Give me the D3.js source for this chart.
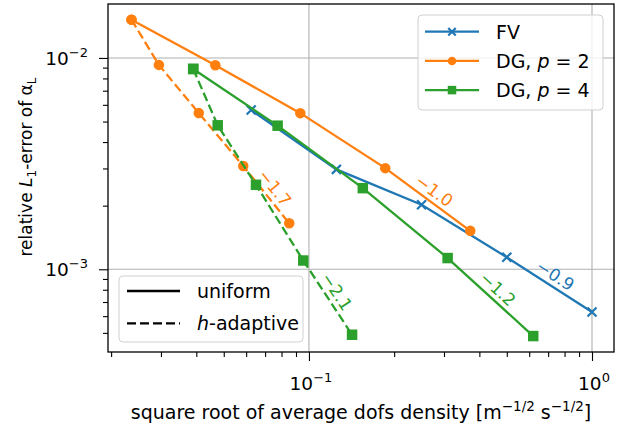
<!DOCTYPE html>
<html>
<head>
<meta charset="utf-8">
<script src="https://cdn.jsdelivr.net/npm/d3@7"></script>
<style>
  body { margin: 0; background: #fff; }
  svg { display: block; font-family: "DejaVu Sans", sans-serif; }
</style>
</head>
<body>
<div id="chart"></div>
<script>
const kWidth = 627;
const kHeight = 430;
const kMargin = {left: 108, top: 4, right: 13, bottom: 78};

// data (log-log)
const fvX = [0.0625, 0.125, 0.25, 0.5, 1.0];
const fvY = [5.67e-3, 2.97e-3, 2.02e-3, 1.14e-3, 6.28e-4];
const dg2UniX = [0.0236, 0.0467, 0.0932, 0.186, 0.3715];
const dg2UniY = [1.518e-2, 9.24e-3, 5.48e-3, 3.01e-3, 1.52e-3];
const dg2AdaX = [0.0236, 0.0295, 0.0408, 0.0586, 0.0852];
const dg2AdaY = [1.518e-2, 9.27e-3, 5.49e-3, 3.08e-3, 1.65e-3];
const dg4UniX = [0.039, 0.0775, 0.155, 0.309, 0.62];
const dg4UniY = [8.87e-3, 4.78e-3, 2.42e-3, 1.13e-3, 4.83e-4];
const dg4AdaX = [0.039, 0.0476, 0.065, 0.0955, 0.142];
const dg4AdaY = [8.87e-3, 4.80e-3, 2.51e-3, 1.10e-3, 4.90e-4];

const xDomain = [0.0195, 1.196];
const yDomain = [4.06e-4, 0.0180];
const xMajor = [0.1, 1];
const xMajorExp = ["−1", "0"];
const yMajor = [1e-3, 1e-2];
const yMajorExp = ["−3", "−2"];

const kBlue = "#1f77b4";
const kOrange = "#ff7f0e";
const kGreen = "#2ca02c";
const kDash = "9,4";

const series = [
  {xs: fvX, ys: fvY, color: kBlue, marker: "x", dashed: false, slope: "−0.9"},
  {xs: dg2UniX, ys: dg2UniY, color: kOrange, marker: "o", dashed: false, slope: "−1.0"},
  {xs: dg2AdaX, ys: dg2AdaY, color: kOrange, marker: "o", dashed: true, slope: "−1.7"},
  {xs: dg4UniX, ys: dg4UniY, color: kGreen, marker: "s", dashed: false, slope: "−1.2"},
  {xs: dg4AdaX, ys: dg4AdaY, color: kGreen, marker: "s", dashed: true, slope: "−2.1"}
];

function minorTicks(domain)
{
  const out = [];
  for (let e = -5; e <= 1; e++) {
    for (let m = 2; m <= 9; m++) {
      const v = m * Math.pow(10, e);
      if (v >= domain[0] && v <= domain[1]) out.push(v);
    }
  }
  return out;
}

function drawMarker(g, kind, color, cx, cy, size)
{
  if (kind === "o") {
    g.append("circle").attr("cx", cx).attr("cy", cy).attr("r", size / 2)
      .attr("fill", color);
  } else if (kind === "s") {
    g.append("rect").attr("x", cx - size / 2).attr("y", cy - size / 2)
      .attr("width", size).attr("height", size).attr("fill", color);
  } else {
    const h = size / 2;
    g.append("path")
      .attr("d", `M${cx-h},${cy-h}L${cx+h},${cy+h}M${cx-h},${cy+h}L${cx+h},${cy-h}`)
      .attr("stroke", color).attr("stroke-width", 2.2).attr("fill", "none");
  }
}

const svg = d3.select("#chart").append("svg")
  .attr("width", kWidth)
  .attr("height", kHeight);

const x = d3.scaleLog().domain(xDomain).range([kMargin.left, kWidth - kMargin.right]);
const y = d3.scaleLog().domain(yDomain).range([kHeight - kMargin.bottom, kMargin.top]);
const plotBottom = kHeight - kMargin.bottom;
const plotRight = kWidth - kMargin.right;

svg.append("defs").append("clipPath").attr("id", "clip")
  .append("rect")
  .attr("x", kMargin.left).attr("y", kMargin.top)
  .attr("width", plotRight - kMargin.left).attr("height", plotBottom - kMargin.top);

// grid
const grid = svg.append("g").attr("stroke", "#b0b0b0").attr("stroke-width", 1.1);
xMajor.forEach(v => grid.append("line")
  .attr("x1", x(v)).attr("x2", x(v)).attr("y1", kMargin.top).attr("y2", plotBottom));
yMajor.forEach(v => grid.append("line")
  .attr("x1", kMargin.left).attr("x2", plotRight).attr("y1", y(v)).attr("y2", y(v)));

// lines and markers
const plot = svg.append("g").attr("clip-path", "url(#clip)");
const line = d3.line().x(d => x(d[0])).y(d => y(d[1]));

series.forEach(s => {
  const pts = s.xs.map((v, i) => [v, s.ys[i]]);
  plot.append("path")
    .attr("d", line(pts))
    .attr("fill", "none")
    .attr("stroke", s.color)
    .attr("stroke-width", 2.3)
    .attr("stroke-dasharray", s.dashed ? kDash : null);
  const mg = plot.append("g");
  pts.forEach(p => drawMarker(mg, s.marker, s.color, x(p[0]), y(p[1]), s.marker === "x" ? 9 : 10.5));
});

// slope labels on the last segment
series.forEach(s => {
  const n = s.xs.length;
  const x0 = x(s.xs[n-2]), y0 = y(s.ys[n-2]);
  const x1 = x(s.xs[n-1]), y1 = y(s.ys[n-1]);
  const len = Math.hypot(x1 - x0, y1 - y0);
  const ux = (x1 - x0) / len, uy = (y1 - y0) / len;
  const off = 11;
  const cx = (x0 + x1) / 2 + uy * off;
  const cy = (y0 + y1) / 2 - ux * off;
  const ang = Math.atan2(y1 - y0, x1 - x0) * 180 / Math.PI;
  svg.append("text")
    .attr("transform", `translate(${cx},${cy}) rotate(${ang})`)
    .attr("text-anchor", "middle")
    .attr("dominant-baseline", "central")
    .attr("fill", s.color)
    .attr("font-size", 17)
    .text(s.slope);
});

// axes
const xAxisG = svg.append("g").attr("transform", `translate(0,${plotBottom})`);
xAxisG.call(d3.axisBottom(x).tickValues(xMajor).tickSize(9).tickFormat(""));
xAxisG.append("g").call(d3.axisBottom(x).tickValues(minorTicks(xDomain)).tickSize(5).tickFormat(""));
const yAxisG = svg.append("g").attr("transform", `translate(${kMargin.left},0)`);
yAxisG.call(d3.axisLeft(y).tickValues(yMajor).tickSize(9).tickFormat(""));
yAxisG.append("g").call(d3.axisLeft(y).tickValues(minorTicks(yDomain)).tickSize(5).tickFormat(""));
svg.selectAll(".domain").remove();
svg.selectAll(".tick line").attr("stroke", "#000").attr("stroke-width", 1.1);

// frame
svg.append("rect")
  .attr("x", kMargin.left).attr("y", kMargin.top)
  .attr("width", plotRight - kMargin.left).attr("height", plotBottom - kMargin.top)
  .attr("fill", "none").attr("stroke", "#000").attr("stroke-width", 1.3);

// tick labels
xMajor.forEach((v, i) => {
  const t = svg.append("text")
    .attr("x", x(v) + 2).attr("y", plotBottom + 38)
    .attr("text-anchor", "middle").attr("font-size", 18.5);
  t.append("tspan").text("10");
  t.append("tspan").attr("dy", -8).attr("font-size", 13).text(xMajorExp[i]);
});
yMajor.forEach((v, i) => {
  const t = svg.append("text")
    .attr("x", kMargin.left - 20).attr("y", y(v) + 7)
    .attr("text-anchor", "end").attr("font-size", 18.5);
  t.append("tspan").text("10");
  t.append("tspan").attr("dy", -8).attr("font-size", 13).text(yMajorExp[i]);
});

// axis titles
const xt = svg.append("text")
  .attr("x", (kMargin.left + plotRight) / 2).attr("y", 419)
  .attr("text-anchor", "middle").attr("font-size", 19);
xt.append("tspan").text("square root of average dofs density [m");
xt.append("tspan").attr("dy", -8).attr("font-size", 13.5).text("−1/2");
xt.append("tspan").attr("dy", 8).text(" s");
xt.append("tspan").attr("dy", -8).attr("font-size", 13.5).text("−1/2");
xt.append("tspan").attr("dy", 8).text("]");

const yt = svg.append("text")
  .attr("transform", `translate(32,167) rotate(-90)`)
  .attr("text-anchor", "middle").attr("font-size", 17);
yt.append("tspan").text("relative ");
yt.append("tspan").attr("font-style", "italic").text("L");
yt.append("tspan").attr("dy", 4).attr("font-size", 12).text("1");
yt.append("tspan").attr("dy", -4).text("-error of α");
yt.append("tspan").attr("dy", 4).attr("font-size", 12).text("L");

// legend: methods
const leg1 = svg.append("g");
leg1.append("rect")
  .attr("x", 418).attr("y", 15).attr("width", 185).attr("height", 95).attr("rx", 4)
  .attr("fill", "#fff").attr("fill-opacity", 0.8).attr("stroke", "#d0d0d0");
const leg1Items = [
  {label: ["FV"], color: kBlue, marker: "x"},
  {label: ["DG, ", "p", " = 2"], color: kOrange, marker: "o"},
  {label: ["DG, ", "p", " = 4"], color: kGreen, marker: "s"}
];
leg1Items.forEach((it, i) => {
  const cy = 31.7 + i * 29.2;
  leg1.append("line").attr("x1", 425).attr("x2", 479).attr("y1", cy).attr("y2", cy)
    .attr("stroke", it.color).attr("stroke-width", 2.3);
  drawMarker(leg1, it.marker, it.color, 452, cy, it.marker === "x" ? 7.5 : 8.5);
  const t = leg1.append("text").attr("x", 496).attr("y", cy + 7).attr("font-size", 19);
  it.label.forEach((s, j) => t.append("tspan").attr("font-style", j === 1 ? "italic" : null)
    .attr("xml:space", "preserve").text(s));
});

// legend: refinement
const leg2 = svg.append("g");
leg2.append("rect")
  .attr("x", 119).attr("y", 276).attr("width", 184).attr("height", 66).attr("rx", 4)
  .attr("fill", "#fff").attr("fill-opacity", 0.8).attr("stroke", "#d0d0d0");
const leg2Items = [
  {label: ["", "", "uniform"], dashed: false},
  {label: ["", "h", "-adaptive"], dashed: true}
];
leg2Items.forEach((it, i) => {
  const cy = 291 + i * 32.3;
  leg2.append("line").attr("x1", 127).attr("x2", 180).attr("y1", cy).attr("y2", cy)
    .attr("stroke", "#000").attr("stroke-width", 2.3)
    .attr("stroke-dasharray", it.dashed ? kDash : null);
  const t = leg2.append("text").attr("x", 197).attr("y", cy + 7).attr("font-size", 19);
  it.label.forEach((s, j) => { if (s) t.append("tspan").attr("font-style", j === 1 ? "italic" : null).text(s); });
});
</script>
</body>
</html>
